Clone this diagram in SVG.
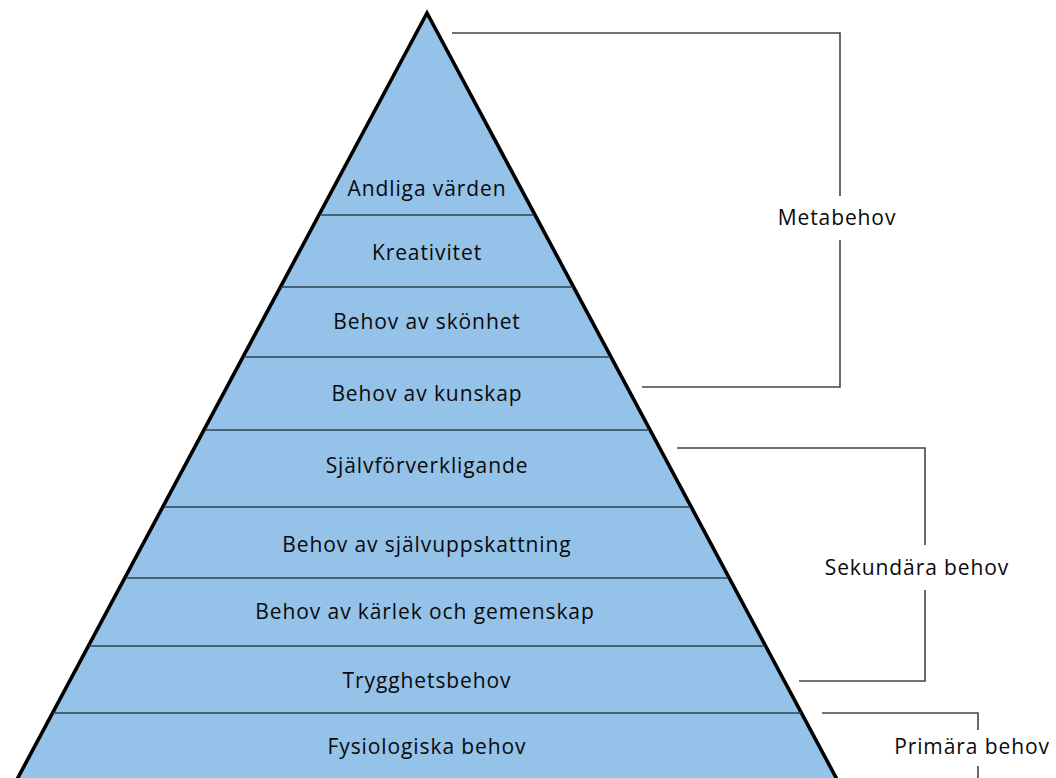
<svg xmlns="http://www.w3.org/2000/svg" width="1056" height="778" viewBox="0 0 1056 778">
<style>
.t{font-family:"Open Sans","Liberation Sans",sans-serif;font-size:21px;letter-spacing:0.9px;fill:#0a0a0a;text-anchor:middle}
.div{stroke:#2f4252;stroke-width:1.6}
.br{fill:none;stroke:#444;stroke-width:1.6}
</style>
<rect width="1056" height="778" fill="#fff"/>
<g id="pyramid">
<polygon points="427,13 6,800 848,800" fill="#95c2e9" stroke="#000" stroke-width="3.6" stroke-linejoin="miter"/>
</g>
<g id="dividers">
<line class="div" x1="320" y1="215" x2="534" y2="215"/>
<line class="div" x1="281" y1="287" x2="573" y2="287"/>
<line class="div" x1="244" y1="357" x2="610" y2="357"/>
<line class="div" x1="205" y1="430" x2="649" y2="430"/>
<line class="div" x1="164" y1="507" x2="690" y2="507"/>
<line class="div" x1="126" y1="578" x2="728" y2="578"/>
<line class="div" x1="89" y1="646" x2="765" y2="646"/>
<line class="div" x1="53" y1="713" x2="801" y2="713"/>
</g>
<g id="level-andliga"><text class="t" x="427" y="196">Andliga värden</text></g>
<g id="level-kreativitet"><text class="t" x="427" y="260">Kreativitet</text></g>
<g id="level-skonhet"><text class="t" x="427" y="329">Behov av skönhet</text></g>
<g id="level-kunskap"><text class="t" x="427" y="401">Behov av kunskap</text></g>
<g id="level-sjalvforverkligande"><text class="t" x="427" y="473">Självförverkligande</text></g>
<g id="level-sjalvuppskattning"><text class="t" x="427" y="552">Behov av självuppskattning</text></g>
<g id="level-karlek"><text class="t" x="425" y="619">Behov av kärlek och gemenskap</text></g>
<g id="level-trygghet"><text class="t" x="427" y="688">Trygghetsbehov</text></g>
<g id="level-fysiologiska"><text class="t" x="427" y="754">Fysiologiska behov</text></g>
<g id="connectors">
<polyline class="br" points="452,33 840,33 840,196"/>
<polyline class="br" points="840,240 840,387 642,387"/>
<polyline class="br" points="677,448 925,448 925,545"/>
<polyline class="br" points="925,590 925,681 799,681"/>
<polyline class="br" points="822,713 978,713 978,730"/>
<polyline class="br" points="978,766 978,790"/>
</g>
<g id="label-metabehov"><text class="t" x="837" y="225">Metabehov</text></g>
<g id="label-sekundara"><text class="t" x="917" y="575">Sekundära behov</text></g>
<g id="label-primara"><text class="t" x="972" y="754">Primära behov</text></g>
</svg>
